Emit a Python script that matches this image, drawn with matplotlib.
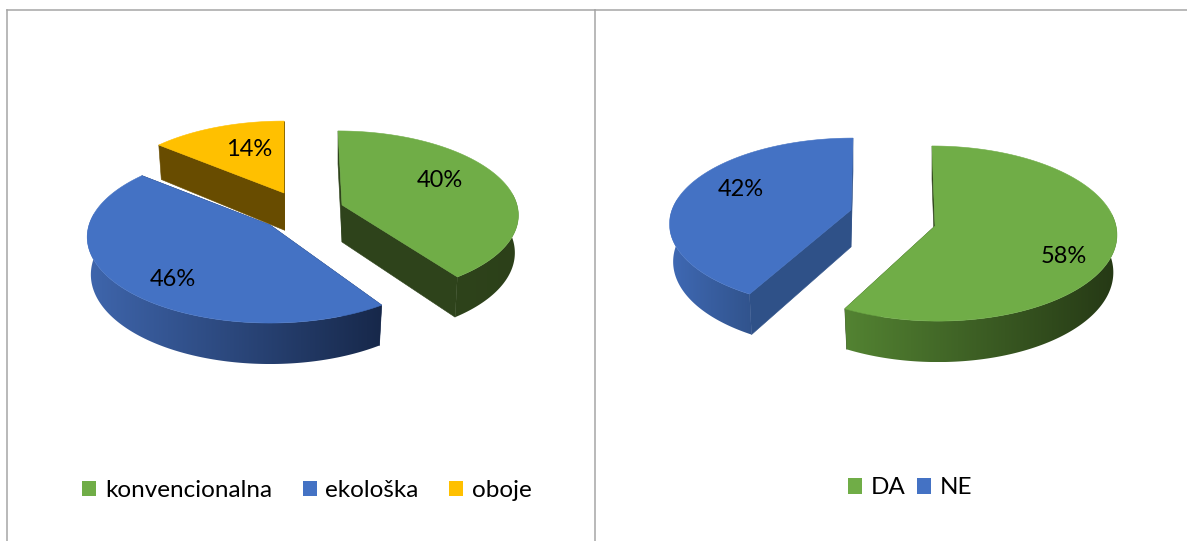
import numpy as np
import matplotlib
matplotlib.use("Agg")
import matplotlib.pyplot as plt
from matplotlib.colors import LinearSegmentedColormap
from matplotlib.patches import Patch, Polygon

plt.rcParams['font.family'] = ['Lato', 'DejaVu Sans']

left_labels = ['konvencionalna', 'ekološka', 'oboje']
left_values = [40, 46, 14]
right_labels = ['DA', 'NE']
right_values = [58, 42]

GREEN = '#70ad47'
BLUE = '#4472c4'
YELLOW = '#ffc000'
FRAME = '#a6a6a6'

# izgled kriski: vrh (px), radijus, perspektiva, nagib ruba, boje stijenki, pomak natpisa
left_slices = [
    dict(apex=(342, 205), r=175, persp=0.102, sy=81.6, lean=-4, trim=(0, 0), top=GREEN,
         cut='#2e431b', wall=('#2e431b', '#2c4019'), nudge=(1, -10)),
    dict(apex=(270, 225), r=181, persp=0.14, sy=84.3, lean=0, trim=(3, 0), top=BLUE,
         cut='#1a2c50', wall=('#3f66ad', '#17284a'), nudge=(-11, 19)),
    dict(apex=(284, 193), r=177, persp=0.14, sy=82, lean=0, trim=(0, 0), top=YELLOW,
         cut='#684c00', wall=('#684c00', '#684c00'), nudge=(7, -2)),
]
right_slices = [
    dict(apex=(935, 226), r=181, persp=0.086, sy=86.9, lean=-3, trim=(0, -0.5), top=GREEN,
         cut='#2e431b', wall=('#538332', '#253815'), nudge=(22, 18)),
    dict(apex=(851, 210), r=179, persp=0.154, sy=83, lean=2, trim=(0, 0), top=BLUE,
         cut='#2f5188', wall=('#3f69b4', '#31538c'), nudge=(-9, -8)),
]


def project(s, ang, f=1.0, z=0.0):
    # tocka na disku -> pikseli, z=1 je donji rub stijenke
    X = f * np.sin(np.radians(ang))
    Y = f * np.cos(np.radians(ang))
    w = 1 + s['persp'] * Y
    px = s['apex'][0] + (1 - 0.02 * z) * s['r'] * X / w + s['lean'] * Y
    py = s['apex'][1] - s['sy'] * Y / w + z * (37 - 4 * Y)
    return np.column_stack([px, py])


def draw_pie(ax, labels, values, slices, order, legend_xy, colspace):
    total = sum(values)
    edges = np.concatenate([[0], np.cumsum(values)]) * 360.0 / total
    for i in order:
        s = slices[i]
        a1, a2 = edges[i] + s['trim'][0], edges[i + 1] + s['trim'][1]
        angs = np.linspace(a1, a2, 200)
        rim = project(s, angs)
        centre = project(s, np.array([a1]), f=0)
        centre_low = project(s, np.array([a1]), f=0, z=1)

        # ravne stijenke
        for a in (a1, a2):
            one = np.array([a])
            face = np.vstack([centre, project(s, one), project(s, one, z=1), centre_low])
            ax.add_patch(Polygon(face, closed=True, fc=s['cut'], ec=s['cut'], lw=0.4, zorder=1))

        # vanjska stijenka s gradijentom, samo prednji dio
        lo, hi = max(a1, 82), min(a2, 278)
        if hi > lo:
            near = np.linspace(lo, hi, 150)
            band = np.vstack([project(s, near), project(s, near, z=1)[::-1]])
            clip = Polygon(band, closed=True, fc='none', ec='none')
            ax.add_patch(clip)
            cmap = LinearSegmentedColormap.from_list('wall', s['wall'])
            im = ax.imshow(np.linspace(0, 1, 256)[None, :], cmap=cmap, aspect='auto',
                           extent=(band[:, 0].min(), band[:, 0].max(),
                                   band[:, 1].max(), band[:, 1].min()),
                           interpolation='bilinear', zorder=2)
            im.set_clip_path(clip)

        # gornja ploha
        ax.add_patch(Polygon(np.vstack([centre, rim]), closed=True, fc=s['top'],
                             ec=s['top'], lw=0.4, zorder=3))

        mid = project(s, np.array([(a1 + a2) / 2]), f=0.6)[0]
        ax.text(mid[0] + s['nudge'][0], mid[1] + s['nudge'][1], f"{values[i]}%",
                ha='center', va='center', fontsize=17, color='black', zorder=4)

    handles = [Patch(fc=s['top'], ec='none') for s in slices]
    ax.legend(handles, labels, loc='center', bbox_to_anchor=legend_xy,
              bbox_transform=ax.transData, ncols=len(labels), frameon=False,
              fontsize=17.5, handlelength=0.576, handleheight=0.62, handletextpad=0.37,
              columnspacing=colspace, borderpad=0, borderaxespad=0)


fig = plt.figure(figsize=(11.87, 5.41), dpi=100)
W, H = 1187.0, 541.0
ax_l = fig.add_axes([6.8 / W, 0, (595.0 - 6.8) / W, (H - 9.5) / H])
ax_r = fig.add_axes([595.0 / W, 0, (W - 595.0) / W, (H - 9.5) / H])

draw_pie(ax_l, left_labels, left_values, left_slices, [2, 0, 1], (307, 490.5), 1.25)
draw_pie(ax_r, right_labels, right_values, right_slices, [1, 0], (910, 488), 0.45)

for ax, x0, x1 in [(ax_l, 6.8, 595.0), (ax_r, 595.0, W)]:
    ax.set_xlim(x0, x1)
    ax.set_ylim(H, 9.5)
    ax.set_xticks([])
    ax.set_yticks([])
    for side in ['right', 'bottom']:
        ax.spines[side].set_visible(False)
    for side in ['top', 'left']:
        ax.spines[side].set_color(FRAME)
        ax.spines[side].set_linewidth(1.1)

fig.savefig('out.png', dpi=100)
